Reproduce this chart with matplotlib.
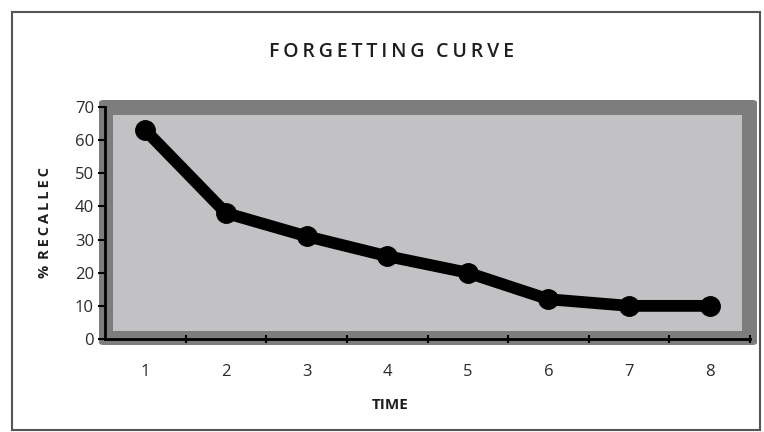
import matplotlib
matplotlib.use('Agg')
import matplotlib.pyplot as plt
from matplotlib.patches import FancyBboxPatch, Rectangle

# data
time = [1, 2, 3, 4, 5, 6, 7, 8]
recalled = [63, 38, 31, 25, 20, 12, 10, 10]
yticks = [0, 10, 20, 30, 40, 50, 60, 70]

W, H = 764, 432
plt.rcParams['font.family'] = ['Open Sans', 'DejaVu Sans']

fig = plt.figure(figsize=(W / 100, H / 100), dpi=100)


def fx(px):
    return px / W


def fy(py):
    return 1 - py / H


# outer frame of the picture
fig.patches.append(Rectangle((fx(12), fy(430)), fx(760) - fx(12), fy(12) - fy(430),
                             transform=fig.transFigure, fill=False,
                             edgecolor='#555555', linewidth=1.5, zorder=0))

# gray plot frame (dark outer, light inner)
fig.patches.append(FancyBboxPatch((fx(99), fy(345)), fx(757) - fx(99), fy(100) - fy(345),
                                  boxstyle='round,pad=0,rounding_size=0.006',
                                  transform=fig.transFigure, facecolor='#7d7d7d',
                                  edgecolor='none', zorder=0))
fig.patches.append(Rectangle((fx(113), fy(331)), fx(742) - fx(113), fy(115) - fy(331),
                             transform=fig.transFigure, facecolor='#c2c1c4',
                             edgecolor='none', zorder=0))

ax = fig.add_axes([fx(105), fy(339), fx(750) - fx(105), fy(107) - fy(339)])
ax.set_zorder(2)
ax.patch.set_visible(False)

ax.plot(time, recalled, color='black', linewidth=8.5, marker='o',
        markersize=14, solid_capstyle='round', solid_joinstyle='round')

ax.set_xlim(0.5, 8.5)
ax.set_ylim(0, 70)
ax.set_yticks(yticks)
ax.set_xticks(time)
ax.set_xticks([t + 0.5 for t in time], minor=True)
ax.tick_params(axis='x', which='major', length=0, pad=18, labelsize=12)
ax.tick_params(axis='x', which='minor', length=6, width=1.5, direction='inout', color='black')
ax.tick_params(axis='y', length=5, width=1.5, direction='out', labelsize=12, pad=3)
for lab in ax.get_xticklabels() + ax.get_yticklabels():
    lab.set_color('#2a2a2a')
    lab.set_fontweight('medium')

for s in ['top', 'right']:
    ax.spines[s].set_visible(False)
for s in ['left', 'bottom']:
    ax.spines[s].set_linewidth(2)
    ax.spines[s].set_color('black')

fig.text(fx(391), fy(52), '\u2009'.join('FORGETTING') + '\u2009\u2009\u2009' + '\u2009'.join('CURVE'),
         ha='center', va='center', fontsize=14, fontweight='semibold', color='#1e1e1e')
fig.text(fx(45), fy(222), '%\u2009\u2009' + '\u2009'.join('RECALLEC'), rotation=90,
         ha='center', va='center', fontsize=10.5, fontweight='bold', color='#1e1e1e')
fig.text(fx(390), fy(405), 'TIME', ha='center', va='center',
         fontsize=11, fontweight='bold', color='#1e1e1e')

fig.savefig('out.png', dpi=100)
